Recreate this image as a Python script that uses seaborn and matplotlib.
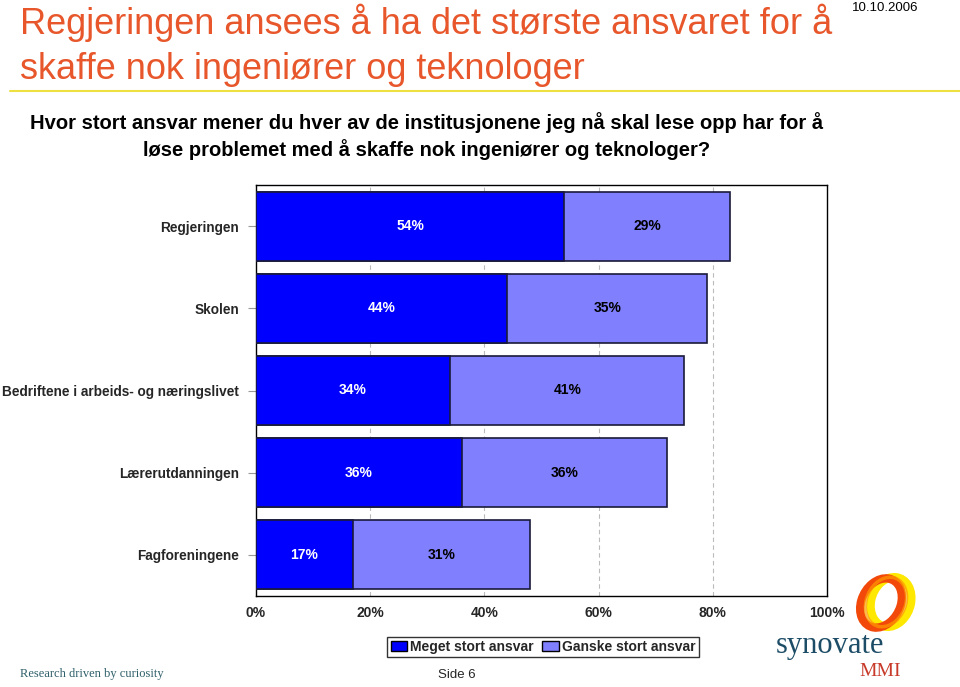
import matplotlib
matplotlib.use("Agg")
import matplotlib.pyplot as plt
from matplotlib.patches import Patch, Ellipse
from matplotlib.lines import Line2D
import seaborn as sns
import pandas as pd

categories = ["Regjeringen", "Skolen", "Bedriftene i arbeids- og næringslivet",
              "Lærerutdanningen", "Fagforeningene"]
meget = [54, 44, 34, 36, 17]
ganske = [29, 35, 41, 36, 31]
series_names = ["Meget stort ansvar", "Ganske stort ansvar"]
xticks = [0, 20, 40, 60, 80, 100]
xticklabels = ["0%", "20%", "40%", "60%", "80%", "100%"]

title_lines = ["Regjeringen ansees å ha det største ansvaret for å",
               "skaffe nok ingeniører og teknologer"]
subtitle = ("Hvor stort ansvar mener du hver av de institusjonene jeg nå skal lese opp har for å\n"
            "løse problemet med å skaffe nok ingeniører og teknologer?")

dark = "#0000FF"
light = "#8080FF"
edge = "#1a1a3a"

sns.set_style("white")
plt.rcParams["font.family"] = ["Liberation Sans", "DejaVu Sans"]

df = pd.DataFrame({"cat": categories, "meget": meget, "ganske": ganske})
df["total"] = df["meget"] + df["ganske"]

fig = plt.figure(figsize=(9.6, 6.87), dpi=100)
ax = fig.add_axes([256/960, 1-596/687, (827-256)/960, (596-185)/687])

sns.barplot(data=df, y="cat", x="total", color=light, orient="h", ax=ax,
            width=0.84, edgecolor=edge, linewidth=1.2, saturation=1, zorder=3)
sns.barplot(data=df, y="cat", x="meget", color=dark, orient="h", ax=ax,
            width=0.84, edgecolor=edge, linewidth=1.2, saturation=1, zorder=4)

for i, (m, g) in enumerate(zip(meget, ganske)):
    ax.text(m / 2, i, f"{m}%", color="white", ha="center", va="center",
            fontsize=10, fontweight="bold", zorder=5)
    ax.text(m + g / 2, i, f"{g}%", color="black", ha="center", va="center",
            fontsize=10, fontweight="bold", zorder=5)

ax.set_xlim(0, 100)
ax.set_ylim(4.5, -0.5)
ax.set_xticks(xticks)
ax.set_xticklabels(xticklabels, fontsize=10, fontweight="bold")
ax.set_yticks(range(len(categories)))
ax.set_yticklabels(categories, fontsize=9.8, fontweight="bold")
ax.set_xlabel("")
ax.set_ylabel("")
ax.tick_params(axis="y", length=6, color="#999999", pad=6, left=True)
ax.tick_params(axis="x", length=0, pad=7)
for x in xticks[1:-1]:
    ax.axvline(x, color="#bbbbbb", linestyle=(0, (4, 3)), linewidth=0.8, zorder=1)
for s in ax.spines.values():
    s.set_visible(True)
    s.set_color("black")
    s.set_linewidth(1.0)

# Legend
handles = [Patch(facecolor=dark, edgecolor="black", linewidth=1),
           Patch(facecolor=light, edgecolor="black", linewidth=1)]
leg = fig.legend(handles, series_names, loc="center", bbox_to_anchor=(543/960, 1-647/687),
                 ncol=2, frameon=True, fancybox=False, edgecolor="black",
                 prop={"weight": "bold", "size": 10}, handlelength=1.2, handleheight=0.8,
                 handletextpad=0.2, columnspacing=0.6, borderpad=0.25, borderaxespad=0)
leg.get_frame().set_linewidth(1.0)

# Titles
fig.text(20/960, 1-34/687, title_lines[0], ha="left", va="baseline", fontsize=26,
         color="#E8572B")
fig.text(20/960, 1-79/687, title_lines[1], ha="left", va="baseline", fontsize=26,
         color="#E8572B")
fig.add_artist(Line2D([10/960, 1.0], [1-91/687, 1-91/687], color="#EEE040", linewidth=1.5,
                      transform=fig.transFigure))
fig.text(427/960, 1-112/687, subtitle, ha="center", va="top", fontsize=14.5,
         fontweight="bold", color="black", linespacing=1.35,
         family=["Liberation Sans Narrow", "Liberation Sans", "DejaVu Sans"])
fig.text(918/960, 1-2/687, "10.10.2006", ha="right", va="top", fontsize=9.5, color="black")

# Footer
fig.text(457/960, 1-675/687, "Side 6", ha="center", va="center", fontsize=9.5)
fig.text(20/960, 1-674/687, "Research driven by curiosity", ha="left", va="center",
         fontsize=9, color="#2f5f6a", family=["Liberation Serif", "DejaVu Serif"])
fig.text(830/960, 1-645/687, "synovate", ha="center", va="center", fontsize=22,
         color="#1d4d66", family=["Liberation Serif", "DejaVu Serif"])
fig.text(880/960, 1-672/687, "MMI", ha="center", va="center", fontsize=14,
         color="#c83a2a", family=["Liberation Serif", "DejaVu Serif"])
fig.add_artist(Ellipse((891/960, 1-602/687), 40/960, 50/687, angle=-8, fill=False,
                       edgecolor="#FFE800", linewidth=6, transform=fig.transFigure))
fig.add_artist(Ellipse((881/960, 1-603/687), 40/960, 50/687, angle=-12, fill=False,
                       edgecolor="#F2480A", linewidth=6, transform=fig.transFigure))
fig.add_artist(Ellipse((886/960, 1-602/687), 40/960, 50/687, angle=-10, fill=False,
                       edgecolor="#FF9A00", linewidth=2.5, alpha=0.7, transform=fig.transFigure))

fig.savefig("out.png", dpi=100)
